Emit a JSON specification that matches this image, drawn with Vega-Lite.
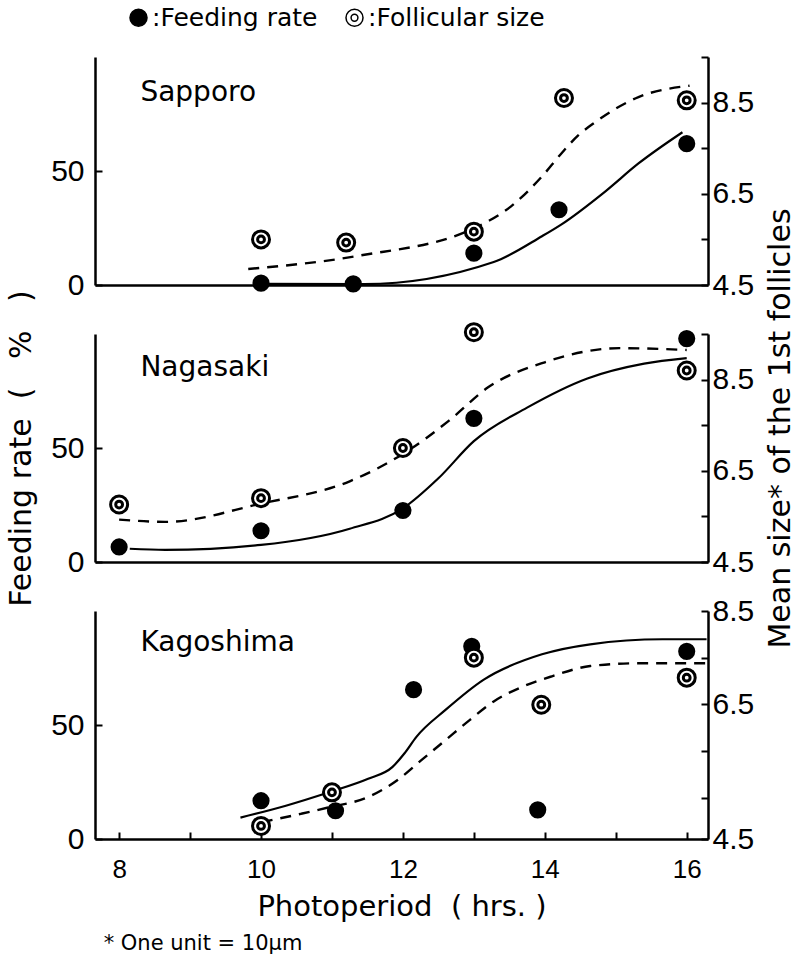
{
  "$schema": "https://vega.github.io/schema/vega-lite/v6.json",
  "background": "white",
  "padding": {"left": 6, "top": 5, "right": 5, "bottom": 5},
  "bounds": "flush",
  "spacing": 49,
  "config": {
    "font": "DejaVu Sans",
    "view": {"stroke": null},
    "axis": {
      "domainColor": "black", "domainWidth": 2.5, "tickColor": "black", "tickWidth": 2,
      "labelColor": "black", "titleColor": "black", "grid": false,
      "labelFont": "Liberation Sans", "titleFont": "DejaVu Sans", "titleFontWeight": "normal"
    }
  },
  "title": {"text": "* One unit = 10μm", "orient": "bottom", "anchor": "start", "frame": "bounds", "fontSize": 21, "fontWeight": "normal", "font": "DejaVu Sans", "color": "black", "dx": 97, "offset": 12},
  "datasets": {
    "obs": [
      {"site": "Sapporo", "series": "Feeding rate", "hours": 10, "value": 0.8},
      {"site": "Sapporo", "series": "Feeding rate", "hours": 11.3, "value": 0.5},
      {"site": "Sapporo", "series": "Feeding rate", "hours": 13, "value": 14},
      {"site": "Sapporo", "series": "Feeding rate", "hours": 14.2, "value": 33},
      {"site": "Sapporo", "series": "Feeding rate", "hours": 16, "value": 62},
      {"site": "Sapporo", "series": "Follicular size", "hours": 10, "value": 5.5},
      {"site": "Sapporo", "series": "Follicular size", "hours": 11.2, "value": 5.43},
      {"site": "Sapporo", "series": "Follicular size", "hours": 13, "value": 5.67},
      {"site": "Sapporo", "series": "Follicular size", "hours": 14.27, "value": 8.6},
      {"site": "Sapporo", "series": "Follicular size", "hours": 16, "value": 8.55},
      {"site": "Nagasaki", "series": "Feeding rate", "hours": 8, "value": 6.6},
      {"site": "Nagasaki", "series": "Feeding rate", "hours": 10, "value": 13.7},
      {"site": "Nagasaki", "series": "Feeding rate", "hours": 12, "value": 22.6},
      {"site": "Nagasaki", "series": "Feeding rate", "hours": 13, "value": 63},
      {"site": "Nagasaki", "series": "Feeding rate", "hours": 16, "value": 98},
      {"site": "Nagasaki", "series": "Follicular size", "hours": 8, "value": 5.76},
      {"site": "Nagasaki", "series": "Follicular size", "hours": 10, "value": 5.9},
      {"site": "Nagasaki", "series": "Follicular size", "hours": 12, "value": 7.0},
      {"site": "Nagasaki", "series": "Follicular size", "hours": 13, "value": 9.54},
      {"site": "Nagasaki", "series": "Follicular size", "hours": 16, "value": 8.7},
      {"site": "Kagoshima", "series": "Feeding rate", "hours": 10, "value": 16.8},
      {"site": "Kagoshima", "series": "Feeding rate", "hours": 11.05, "value": 12.4},
      {"site": "Kagoshima", "series": "Feeding rate", "hours": 12.15, "value": 65.5},
      {"site": "Kagoshima", "series": "Feeding rate", "hours": 12.97, "value": 84.5},
      {"site": "Kagoshima", "series": "Feeding rate", "hours": 13.9, "value": 12.8},
      {"site": "Kagoshima", "series": "Feeding rate", "hours": 16, "value": 82.3},
      {"site": "Kagoshima", "series": "Follicular size", "hours": 10, "value": 3.89},
      {"site": "Kagoshima", "series": "Follicular size", "hours": 11, "value": 4.61},
      {"site": "Kagoshima", "series": "Follicular size", "hours": 13, "value": 7.5},
      {"site": "Kagoshima", "series": "Follicular size", "hours": 13.95, "value": 6.49},
      {"site": "Kagoshima", "series": "Follicular size", "hours": 16, "value": 7.07}
    ],
    "fit": [
      {"site": "Sapporo", "series": "Feeding rate", "hours": 10, "value": 0.5},
      {"site": "Sapporo", "series": "Feeding rate", "hours": 11.45, "value": 0.4},
      {"site": "Sapporo", "series": "Feeding rate", "hours": 13.28, "value": 10.1},
      {"site": "Sapporo", "series": "Feeding rate", "hours": 13.96, "value": 21.4},
      {"site": "Sapporo", "series": "Feeding rate", "hours": 14.23, "value": 26.5},
      {"site": "Sapporo", "series": "Feeding rate", "hours": 14.85, "value": 41},
      {"site": "Sapporo", "series": "Feeding rate", "hours": 15.32, "value": 53.3},
      {"site": "Sapporo", "series": "Feeding rate", "hours": 15.94, "value": 67},
      {"site": "Sapporo", "series": "Follicular size", "hours": 9.82, "value": 4.85},
      {"site": "Sapporo", "series": "Follicular size", "hours": 11.37, "value": 5.14},
      {"site": "Sapporo", "series": "Follicular size", "hours": 13.01, "value": 5.75},
      {"site": "Sapporo", "series": "Follicular size", "hours": 13.52, "value": 6.22},
      {"site": "Sapporo", "series": "Follicular size", "hours": 13.96, "value": 6.88},
      {"site": "Sapporo", "series": "Follicular size", "hours": 14.23, "value": 7.38},
      {"site": "Sapporo", "series": "Follicular size", "hours": 14.47, "value": 7.78},
      {"site": "Sapporo", "series": "Follicular size", "hours": 14.71, "value": 8.07},
      {"site": "Sapporo", "series": "Follicular size", "hours": 15.32, "value": 8.62},
      {"site": "Sapporo", "series": "Follicular size", "hours": 16.04, "value": 8.87},
      {"site": "Nagasaki", "series": "Feeding rate", "hours": 8.15, "value": 5.8},
      {"site": "Nagasaki", "series": "Feeding rate", "hours": 8.65, "value": 5.3},
      {"site": "Nagasaki", "series": "Feeding rate", "hours": 10, "value": 7.5},
      {"site": "Nagasaki", "series": "Feeding rate", "hours": 11.25, "value": 14.6},
      {"site": "Nagasaki", "series": "Feeding rate", "hours": 12, "value": 23.5},
      {"site": "Nagasaki", "series": "Feeding rate", "hours": 12.5, "value": 36.7},
      {"site": "Nagasaki", "series": "Feeding rate", "hours": 13, "value": 53},
      {"site": "Nagasaki", "series": "Feeding rate", "hours": 13.75, "value": 67.7},
      {"site": "Nagasaki", "series": "Feeding rate", "hours": 14.6, "value": 80.5},
      {"site": "Nagasaki", "series": "Feeding rate", "hours": 15.4, "value": 87},
      {"site": "Nagasaki", "series": "Feeding rate", "hours": 16, "value": 89.4},
      {"site": "Nagasaki", "series": "Follicular size", "hours": 8, "value": 5.43},
      {"site": "Nagasaki", "series": "Follicular size", "hours": 8.65, "value": 5.38},
      {"site": "Nagasaki", "series": "Follicular size", "hours": 10, "value": 5.78},
      {"site": "Nagasaki", "series": "Follicular size", "hours": 11.25, "value": 6.27},
      {"site": "Nagasaki", "series": "Follicular size", "hours": 12, "value": 6.87},
      {"site": "Nagasaki", "series": "Follicular size", "hours": 12.65, "value": 7.6},
      {"site": "Nagasaki", "series": "Follicular size", "hours": 13.2, "value": 8.33},
      {"site": "Nagasaki", "series": "Follicular size", "hours": 14.0, "value": 8.88},
      {"site": "Nagasaki", "series": "Follicular size", "hours": 15.05, "value": 9.19},
      {"site": "Nagasaki", "series": "Follicular size", "hours": 16, "value": 9.15},
      {"site": "Kagoshima", "series": "Feeding rate", "hours": 9.71, "value": 9.4},
      {"site": "Kagoshima", "series": "Feeding rate", "hours": 10.35, "value": 14.6},
      {"site": "Kagoshima", "series": "Feeding rate", "hours": 10.96, "value": 20.5},
      {"site": "Kagoshima", "series": "Feeding rate", "hours": 11.51, "value": 26.4},
      {"site": "Kagoshima", "series": "Feeding rate", "hours": 11.85, "value": 31.5},
      {"site": "Kagoshima", "series": "Feeding rate", "hours": 12.02, "value": 37.5},
      {"site": "Kagoshima", "series": "Feeding rate", "hours": 12.19, "value": 44.8},
      {"site": "Kagoshima", "series": "Feeding rate", "hours": 12.6, "value": 56.6},
      {"site": "Kagoshima", "series": "Feeding rate", "hours": 13.14, "value": 69.9},
      {"site": "Kagoshima", "series": "Feeding rate", "hours": 13.96, "value": 81},
      {"site": "Kagoshima", "series": "Feeding rate", "hours": 14.64, "value": 85.4},
      {"site": "Kagoshima", "series": "Feeding rate", "hours": 15.66, "value": 87.6},
      {"site": "Kagoshima", "series": "Feeding rate", "hours": 16.28, "value": 87.6},
      {"site": "Kagoshima", "series": "Follicular size", "hours": 10.01, "value": 3.97},
      {"site": "Kagoshima", "series": "Follicular size", "hours": 10.56, "value": 4.15},
      {"site": "Kagoshima", "series": "Follicular size", "hours": 10.96, "value": 4.29},
      {"site": "Kagoshima", "series": "Follicular size", "hours": 11.51, "value": 4.51},
      {"site": "Kagoshima", "series": "Follicular size", "hours": 11.92, "value": 4.87},
      {"site": "Kagoshima", "series": "Follicular size", "hours": 12.26, "value": 5.3},
      {"site": "Kagoshima", "series": "Follicular size", "hours": 12.6, "value": 5.73},
      {"site": "Kagoshima", "series": "Follicular size", "hours": 12.94, "value": 6.16},
      {"site": "Kagoshima", "series": "Follicular size", "hours": 13.28, "value": 6.56},
      {"site": "Kagoshima", "series": "Follicular size", "hours": 13.69, "value": 6.88},
      {"site": "Kagoshima", "series": "Follicular size", "hours": 14.1, "value": 7.1},
      {"site": "Kagoshima", "series": "Follicular size", "hours": 14.64, "value": 7.32},
      {"site": "Kagoshima", "series": "Follicular size", "hours": 15.32, "value": 7.38},
      {"site": "Kagoshima", "series": "Follicular size", "hours": 16.28, "value": 7.38}
    ],
    "sites": [{"site": "Sapporo"}, {"site": "Nagasaki"}, {"site": "Kagoshima"}]
  },
  "vconcat": [
    {
      "width": 613, "height": 228,
      "layer": [
        {
          "layer": [
            {"data": {"name": "fit"}, "transform": [{"filter": "datum.site == 'Sapporo' && datum.series == 'Feeding rate'"}],
             "mark": {"type": "line", "color": "black", "strokeWidth": 2.2, "interpolate": "monotone"},
             "encoding": {
               "x": {"field": "hours", "type": "quantitative", "scale": {"domain": [7.66, 16.3], "nice": false, "zero": false}, "axis": {"title": null, "labels": false, "ticks": false}},
               "y": {"field": "value", "type": "quantitative", "scale": {"domain": [0, 100], "nice": false}, "axis": {"orient": "left", "values": [0, 50], "format": "d", "title": null, "tickSize": -7, "labelFontSize": 30, "labelPadding": 18}}
             }},
            {"data": {"name": "obs"}, "transform": [{"filter": "datum.site == 'Sapporo' && datum.series == 'Feeding rate'"}],
             "mark": {"type": "point", "filled": true, "stroke": "black", "strokeWidth": 2, "size": 230, "opacity": 1},
             "encoding": {
               "x": {"field": "hours", "type": "quantitative"},
               "y": {"field": "value", "type": "quantitative"},
               "shape": {"field": "series", "type": "nominal", "scale": {"domain": ["Feeding rate", "Follicular size"], "range": ["circle", "M-1,0A1,1,0,1,1,1,0A1,1,0,1,1,-1,0ZM-0.4,0A0.4,0.4,0,1,1,0.4,0A0.4,0.4,0,1,1,-0.4,0Z"]}, "legend": {"orient": "none", "legendX": 31, "legendY": -52, "direction": "horizontal", "title": null, "labelExpr": "':' + datum.label", "labelFont": "DejaVu Sans", "labelFontSize": 25, "labelColor": "black", "labelLimit": 400, "symbolSize": 290, "labelOffset": 1, "columnPadding": 24, "encode": {"symbols": {"update": {"stroke": {"value": "black"}, "strokeWidth": {"value": 2.8}}}}}},
               "fill": {"field": "series", "type": "nominal", "scale": {"domain": ["Feeding rate", "Follicular size"], "range": ["black", "white"]}, "legend": {"orient": "none", "legendX": 31, "legendY": -52, "direction": "horizontal", "title": null, "labelExpr": "':' + datum.label", "labelFont": "DejaVu Sans", "labelFontSize": 25, "labelColor": "black", "labelLimit": 400, "symbolSize": 290, "labelOffset": 1, "columnPadding": 24, "encode": {"symbols": {"update": {"stroke": {"value": "black"}, "strokeWidth": {"value": 2.8}}}}}}
             }},
            {"data": {"name": "sites"}, "transform": [{"filter": "datum.site == 'Sapporo'"}],
             "mark": {"type": "text", "align": "left", "baseline": "middle", "fontSize": 28, "font": "DejaVu Sans", "color": "black"},
             "encoding": {"x": {"datum": 8.3}, "y": {"datum": 84}, "text": {"field": "site"}}}
          ]
        },
        {
          "layer": [
            {"data": {"name": "fit"}, "transform": [{"filter": "datum.site == 'Sapporo' && datum.series == 'Follicular size'"}],
             "mark": {"type": "line", "color": "black", "strokeWidth": 2.4, "strokeDash": [11, 8], "interpolate": "monotone"},
             "encoding": {
               "x": {"field": "hours", "type": "quantitative"},
               "y": {"field": "value", "type": "quantitative", "scale": {"domain": [4.5, 9.5], "nice": false, "zero": false}, "axis": {"orient": "right", "values": [4.5, 5.5, 6.5, 7.5, 8.5, 9.5], "format": ".1f", "labelExpr": "(datum.value == 4.5 || datum.value == 6.5 || datum.value == 8.5) ? datum.label : ''", "title": null, "tickSize": -7, "labelFontSize": 30, "labelPadding": 11}}
             }},
            {"data": {"name": "obs"}, "transform": [{"filter": "datum.site == 'Sapporo' && datum.series == 'Follicular size'"}],
             "mark": {"type": "point", "filled": true, "stroke": "black", "strokeWidth": 3, "size": 289, "opacity": 1},
             "encoding": {
               "x": {"field": "hours", "type": "quantitative"},
               "y": {"field": "value", "type": "quantitative"},
               "shape": {"field": "series", "type": "nominal"},
               "fill": {"field": "series", "type": "nominal"}
             }}
          ]
        }
      ],
      "resolve": {"scale": {"y": "independent"}}
    },
    {
      "width": 613, "height": 228,
      "layer": [
        {
          "layer": [
            {"data": {"name": "fit"}, "transform": [{"filter": "datum.site == 'Nagasaki' && datum.series == 'Feeding rate'"}],
             "mark": {"type": "line", "color": "black", "strokeWidth": 2.2, "interpolate": "monotone"},
             "encoding": {
               "x": {"field": "hours", "type": "quantitative", "scale": {"domain": [7.66, 16.3], "nice": false, "zero": false}, "axis": {"title": null, "labels": false, "ticks": false}},
               "y": {"field": "value", "type": "quantitative", "scale": {"domain": [0, 100], "nice": false}, "axis": {"orient": "left", "values": [0, 50], "format": "d", "title": "Feeding rate\u00a0\u00a0(\u00a0\u00a0\u00a0%\u00a0\u00a0\u00a0)", "titleFontSize": 30, "titlePadding": 14, "tickSize": -7, "labelFontSize": 30, "labelPadding": 18}}
             }},
            {"data": {"name": "obs"}, "transform": [{"filter": "datum.site == 'Nagasaki' && datum.series == 'Feeding rate'"}],
             "mark": {"type": "point", "filled": true, "stroke": "black", "strokeWidth": 2, "size": 230, "opacity": 1},
             "encoding": {
               "x": {"field": "hours", "type": "quantitative"},
               "y": {"field": "value", "type": "quantitative"},
               "shape": {"field": "series", "type": "nominal"},
               "fill": {"field": "series", "type": "nominal"}
             }},
            {"data": {"name": "sites"}, "transform": [{"filter": "datum.site == 'Nagasaki'"}],
             "mark": {"type": "text", "align": "left", "baseline": "middle", "fontSize": 28, "font": "DejaVu Sans", "color": "black"},
             "encoding": {"x": {"datum": 8.3}, "y": {"datum": 85}, "text": {"field": "site"}}}
          ]
        },
        {
          "layer": [
            {"data": {"name": "fit"}, "transform": [{"filter": "datum.site == 'Nagasaki' && datum.series == 'Follicular size'"}],
             "mark": {"type": "line", "color": "black", "strokeWidth": 2.4, "strokeDash": [11, 8], "interpolate": "monotone"},
             "encoding": {
               "x": {"field": "hours", "type": "quantitative"},
               "y": {"field": "value", "type": "quantitative", "scale": {"domain": [4.5, 9.5], "nice": false, "zero": false}, "axis": {"orient": "right", "values": [4.5, 5.5, 6.5, 7.5, 8.5, 9.5], "format": ".1f", "labelExpr": "(datum.value == 4.5 || datum.value == 6.5 || datum.value == 8.5) ? datum.label : ''", "title": "Mean size* of the 1st follicles", "titleAngle": 270, "titleBaseline": "top", "titleFontSize": 30, "titlePadding": 12, "titleY": 94, "tickSize": -7, "labelFontSize": 30, "labelPadding": 11}}
             }},
            {"data": {"name": "obs"}, "transform": [{"filter": "datum.site == 'Nagasaki' && datum.series == 'Follicular size'"}],
             "mark": {"type": "point", "filled": true, "stroke": "black", "strokeWidth": 3, "size": 289, "opacity": 1},
             "encoding": {
               "x": {"field": "hours", "type": "quantitative"},
               "y": {"field": "value", "type": "quantitative"},
               "shape": {"field": "series", "type": "nominal"},
               "fill": {"field": "series", "type": "nominal"}
             }}
          ]
        }
      ],
      "resolve": {"scale": {"y": "independent"}}
    },
    {
      "width": 613, "height": 228,
      "layer": [
        {
          "layer": [
            {"data": {"name": "fit"}, "transform": [{"filter": "datum.site == 'Kagoshima' && datum.series == 'Feeding rate'"}],
             "mark": {"type": "line", "color": "black", "strokeWidth": 2.2, "interpolate": "monotone"},
             "encoding": {
               "x": {"field": "hours", "type": "quantitative", "scale": {"domain": [7.66, 16.3], "nice": false, "zero": false}, "axis": {"title": "Photoperiod\u00a0\u00a0(\u00a0hrs.\u00a0)", "titleFontSize": 29, "titlePadding": 10, "values": [8, 9, 10, 11, 12, 13, 14, 15, 16], "format": "d", "labelExpr": "datum.value % 2 == 0 ? datum.label : ''", "tickSize": -7, "labelFontSize": 26, "labelPadding": 24}},
               "y": {"field": "value", "type": "quantitative", "scale": {"domain": [0, 100], "nice": false}, "axis": {"orient": "left", "values": [0, 50], "format": "d", "title": null, "tickSize": -7, "labelFontSize": 30, "labelPadding": 18}}
             }},
            {"data": {"name": "obs"}, "transform": [{"filter": "datum.site == 'Kagoshima' && datum.series == 'Feeding rate'"}],
             "mark": {"type": "point", "filled": true, "stroke": "black", "strokeWidth": 2, "size": 230, "opacity": 1},
             "encoding": {
               "x": {"field": "hours", "type": "quantitative"},
               "y": {"field": "value", "type": "quantitative"},
               "shape": {"field": "series", "type": "nominal"},
               "fill": {"field": "series", "type": "nominal"}
             }},
            {"data": {"name": "sites"}, "transform": [{"filter": "datum.site == 'Kagoshima'"}],
             "mark": {"type": "text", "align": "left", "baseline": "middle", "fontSize": 28, "font": "DejaVu Sans", "color": "black"},
             "encoding": {"x": {"datum": 8.3}, "y": {"datum": 86}, "text": {"field": "site"}}}
          ]
        },
        {
          "layer": [
            {"data": {"name": "fit"}, "transform": [{"filter": "datum.site == 'Kagoshima' && datum.series == 'Follicular size'"}],
             "mark": {"type": "line", "color": "black", "strokeWidth": 2.4, "strokeDash": [11, 8], "interpolate": "monotone"},
             "encoding": {
               "x": {"field": "hours", "type": "quantitative"},
               "y": {"field": "value", "type": "quantitative", "scale": {"domain": [3.61, 8.5], "nice": false, "zero": false}, "axis": {"orient": "right", "values": [3.61, 4.5, 5.5, 6.5, 7.5, 8.5], "format": ".1f", "labelExpr": "datum.value < 4 ? '4.5' : ((datum.value == 6.5 || datum.value == 8.5) ? datum.label : '')", "title": null, "tickSize": -7, "labelFontSize": 30, "labelPadding": 11}}
             }},
            {"data": {"name": "obs"}, "transform": [{"filter": "datum.site == 'Kagoshima' && datum.series == 'Follicular size'"}],
             "mark": {"type": "point", "filled": true, "stroke": "black", "strokeWidth": 3, "size": 289, "opacity": 1},
             "encoding": {
               "x": {"field": "hours", "type": "quantitative"},
               "y": {"field": "value", "type": "quantitative"},
               "shape": {"field": "series", "type": "nominal"},
               "fill": {"field": "series", "type": "nominal"}
             }}
          ]
        }
      ],
      "resolve": {"scale": {"y": "independent"}}
    }
  ]
}
